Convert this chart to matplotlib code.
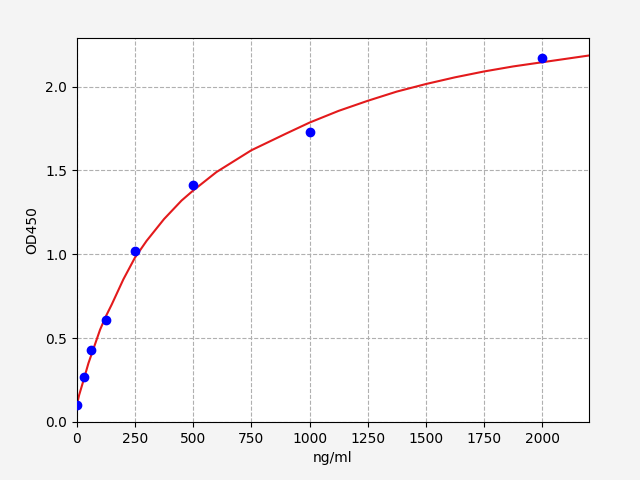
import matplotlib
matplotlib.use("Agg")
import matplotlib.pyplot as plt

conc = [0, 31.25, 62.5, 125, 250, 500, 1000, 2000]
od = [0.10, 0.27, 0.43, 0.61, 1.02, 1.41, 1.73, 2.17]

curve_x = [0, 10, 25, 50, 75, 100, 125, 150, 200, 250, 300, 375, 450, 500, 600, 750, 900, 1000, 1125, 1250, 1375, 1500, 1625, 1750, 1875, 2000, 2100, 2200]
curve_y = [0.10, 0.16, 0.23, 0.35, 0.45, 0.55, 0.63, 0.70, 0.85, 0.98, 1.08, 1.21, 1.32, 1.38, 1.49, 1.62, 1.72, 1.785, 1.855, 1.915, 1.97, 2.015, 2.055, 2.09, 2.12, 2.145, 2.165, 2.185]

fig = plt.figure(figsize=(6.4, 4.8), dpi=100)
fig.patch.set_facecolor("#f4f4f4")
ax = fig.add_axes([0.120, 0.121, 0.800, 0.800])
ax.plot(curve_x, curve_y, color="#e31a1c", lw=1.5, zorder=2)
ax.scatter(conc, od, color="#0000ff", s=36, zorder=3)
ax.set_xlim(0, 2200)
ax.set_ylim(0, 2.29)
ax.set_xticks([0, 250, 500, 750, 1000, 1250, 1500, 1750, 2000])
ax.set_yticks([0.0, 0.5, 1.0, 1.5, 2.0])
ax.grid(True, linestyle="--", color="#b0b0b0")
ax.set_xlabel("ng/ml")
ax.set_ylabel("OD450")
fig.savefig("out.png", facecolor=fig.get_facecolor())
